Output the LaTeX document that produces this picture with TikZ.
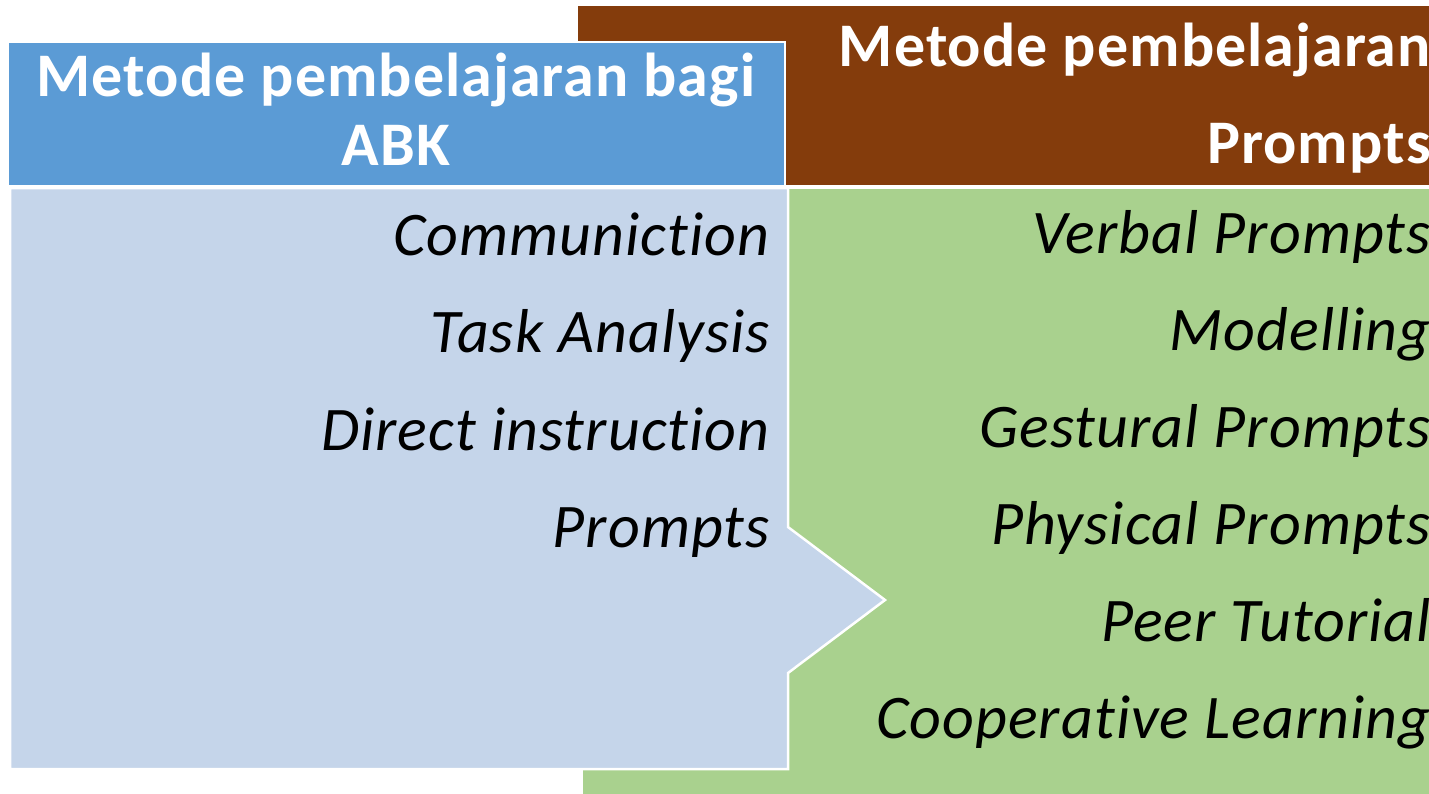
\documentclass[tikz,border=0pt]{standalone}
\usepackage{fontspec}
\setmainfont[Ligatures={NoCommon}, LetterSpace=1.7]{Carlito}
\definecolor{hdrblue}{HTML}{5B9BD5}
\definecolor{hdrbrown}{HTML}{843C0C}
\definecolor{bodyblue}{HTML}{C5D5EA}
\definecolor{bodygreen}{HTML}{A9D18E}
\tikzset{
  panel/.style={draw=white, line width=2.5pt},
  hdrtext/.style={text=white, font=\fontsize{62}{70}\selectfont\bfseries, inner sep=0pt},
  itemtext/.style={text=black, font=\fontsize{62}{70}\selectfont\itshape, inner sep=0pt, anchor=base east},
}
\begin{document}
\begin{tikzpicture}[x=1pt,y=-1pt]
\useasboundingbox (0,0) rectangle (1429,793);
\clip (0,0) rectangle (1429,793);
% back panels
\path[panel, fill=hdrbrown] (577,5) rectangle (1440,186);
\path[panel, fill=bodygreen] (582,188) rectangle (1440,800);
% front panels
\path[panel, fill=hdrblue] (8,42) rectangle (785,186);
\path[panel, fill=bodyblue] (10,188) -- (788,188) -- (788,527) -- (885,600) -- (788,673) -- (788,769) -- (10,769) -- cycle;
% headers
\node[hdrtext, anchor=base] (h1a) at (396,96) {Metode pembelajaran bagi};
\node[hdrtext, anchor=base] (h1b) at (396,165) {ABK};
\node[hdrtext, anchor=base east] (h2a) at (1431,66) {Metode pembelajaran};
\node[hdrtext, anchor=base east] (h2b) at (1431,163) {Prompts};
% left items
\node[itemtext] (l1) at (770,255) {Communiction};
\node[itemtext] (l2) at (770,352) {Task Analysis};
\node[itemtext] (l3) at (770,450) {Direct instruction};
\node[itemtext] (l4) at (770,547) {Prompts};
% right items
\node[itemtext] (r1) at (1431,253) {Verbal Prompts};
\node[itemtext] (r2) at (1431,350) {Modelling};
\node[itemtext] (r3) at (1431,447) {Gestural Prompts};
\node[itemtext] (r4) at (1431,544) {Physical Prompts};
\node[itemtext] (r5) at (1431,641) {Peer Tutorial};
\node[itemtext] (r6) at (1431,738) {Cooperative Learning};
\end{tikzpicture}
\end{document}
